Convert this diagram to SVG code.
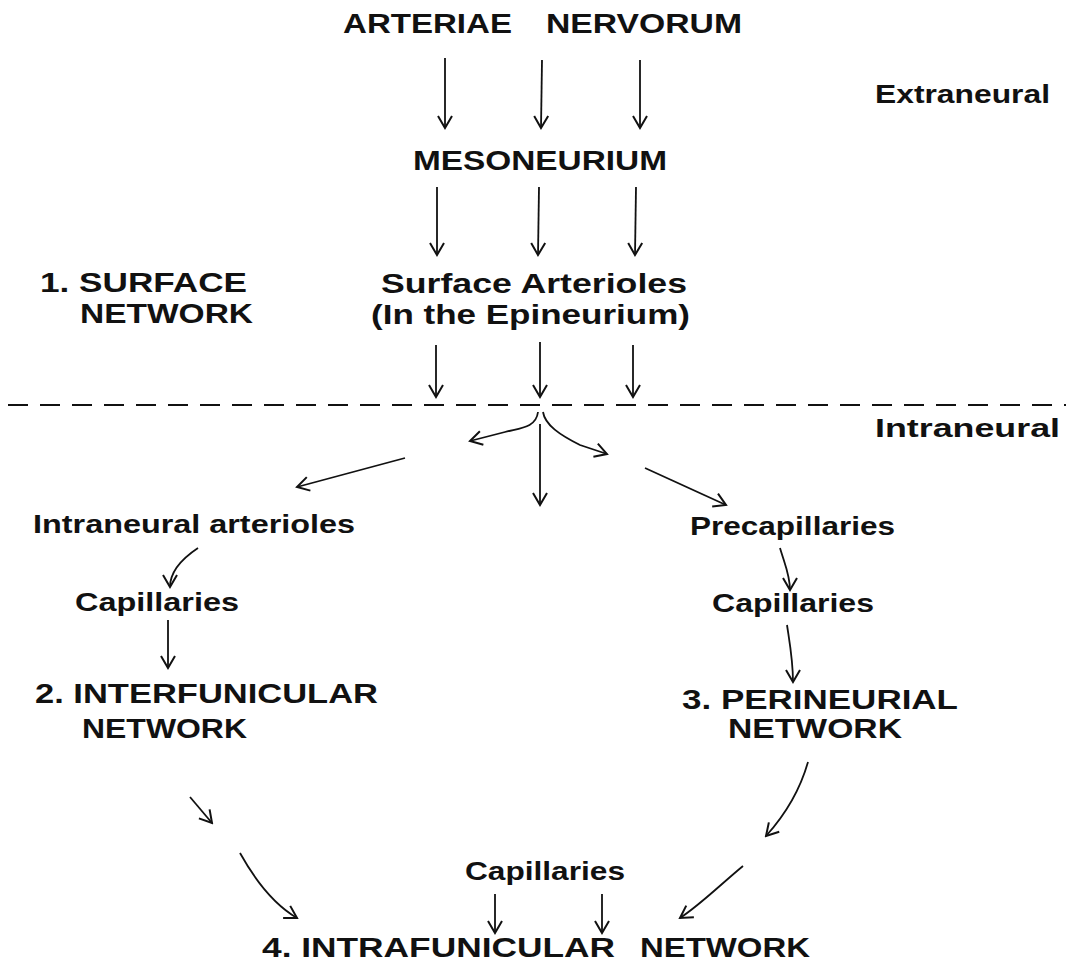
<svg xmlns="http://www.w3.org/2000/svg" width="1066" height="965" viewBox="0 0 1066 965">
<defs>
<marker id="ah" viewBox="-14 -9 16 18" markerWidth="16" markerHeight="18" refX="0" refY="0" orient="auto" markerUnits="userSpaceOnUse">
<path d="M -12,-7 L 0,0 L -12,7" fill="none" stroke="#111" stroke-width="2"/>
</marker>
<style>
text{font-family:"Liberation Sans",Arial,sans-serif;font-weight:bold;fill:#111;}
.big{font-size:27px;}
.mid{font-size:26px;}
.cn{stroke:#111;stroke-width:1.8;fill:none;marker-end:url(#ah);}
.dash{stroke:#111;stroke-width:2;stroke-dasharray:20 12;fill:none;}
</style>
</defs>
<rect width="1066" height="965" fill="#fff"/>
<g id="arteriae"><text class="big" x="343" y="33" textLength="169" lengthAdjust="spacingAndGlyphs">ARTERIAE</text><text class="big" x="546" y="33" textLength="196" lengthAdjust="spacingAndGlyphs">NERVORUM</text></g>
<g id="extraneural"><text class="mid" x="875" y="103" textLength="175" lengthAdjust="spacingAndGlyphs">Extraneural</text></g>
<g id="mesoneurium"><text class="big" x="413" y="170" textLength="254" lengthAdjust="spacingAndGlyphs">MESONEURIUM</text></g>
<g id="surface-network"><text class="big" x="40" y="292" textLength="207" lengthAdjust="spacingAndGlyphs">1.  SURFACE</text><text class="big" x="80" y="323" textLength="173" lengthAdjust="spacingAndGlyphs">NETWORK</text></g>
<g id="surface-arterioles"><text class="big" x="381" y="293" textLength="306" lengthAdjust="spacingAndGlyphs">Surface  Arterioles</text><text class="big" x="371" y="324" textLength="319" lengthAdjust="spacingAndGlyphs">(In  the  Epineurium)</text></g>
<g id="intraneural"><text class="mid" x="875" y="437" textLength="185" lengthAdjust="spacingAndGlyphs">Intraneural</text></g>
<g id="intraneural-arterioles"><text class="mid" x="33" y="533" textLength="322" lengthAdjust="spacingAndGlyphs">Intraneural arterioles</text></g>
<g id="precapillaries"><text class="mid" x="690" y="535" textLength="205" lengthAdjust="spacingAndGlyphs">Precapillaries</text></g>
<g id="capillaries-left"><text class="mid" x="75" y="611" textLength="164" lengthAdjust="spacingAndGlyphs">Capillaries</text></g>
<g id="capillaries-right"><text class="mid" x="712" y="612" textLength="162" lengthAdjust="spacingAndGlyphs">Capillaries</text></g>
<g id="interfunicular"><text class="big" x="35" y="703" textLength="343" lengthAdjust="spacingAndGlyphs">2.  INTERFUNICULAR</text><text class="big" x="82" y="738" textLength="165" lengthAdjust="spacingAndGlyphs">NETWORK</text></g>
<g id="perineurial"><text class="big" x="682" y="709" textLength="276" lengthAdjust="spacingAndGlyphs">3.  PERINEURIAL</text><text class="big" x="728" y="738" textLength="174" lengthAdjust="spacingAndGlyphs">NETWORK</text></g>
<g id="capillaries-bottom"><text class="mid" x="465" y="880" textLength="160" lengthAdjust="spacingAndGlyphs">Capillaries</text></g>
<g id="intrafunicular"><text class="big" x="262" y="957" textLength="353" lengthAdjust="spacingAndGlyphs">4.  INTRAFUNICULAR</text><text class="big" x="640" y="957" textLength="170" lengthAdjust="spacingAndGlyphs">NETWORK</text></g>
<g id="connectors">
<path class="cn" d="M445,58 L445,128"/>
<path class="cn" d="M542,60 L541,128"/>
<path class="cn" d="M640,60 L640,128"/>
<path class="cn" d="M437,187 L437,255"/>
<path class="cn" d="M539,187 L538,255"/>
<path class="cn" d="M636,187 L635,255"/>
<path class="cn" d="M436,345 L436,397"/>
<path class="cn" d="M540,342 L540,397"/>
<path class="cn" d="M633,345 L633,397"/>
<path class="dash" d="M8,405 L1066,405"/>
<path class="cn" d="M538,412 C536,428 520,428 505,432 L470,441"/>
<path class="cn" d="M543,412 C545,425 560,435 580,445 L607,454"/>
<path class="cn" d="M540,424 L540,505"/>
<path class="cn" d="M405,458 L297,487"/>
<path class="cn" d="M645,468 L726,505"/>
<path class="cn" d="M198,548 C180,560 170,572 170,587"/>
<path class="cn" d="M168,620 L168,668"/>
<path class="cn" d="M780,548 C785,565 790,575 790,590"/>
<path class="cn" d="M787,625 C790,645 793,660 793,682"/>
<path class="cn" d="M190,797 L212,823"/>
<path class="cn" d="M240,853 C255,880 275,905 297,918"/>
<path class="cn" d="M808,762 C800,790 785,815 766,836"/>
<path class="cn" d="M743,866 C720,885 700,905 680,918"/>
<path class="cn" d="M495,894 L495,933"/>
<path class="cn" d="M602,894 L602,933"/>
</g>
</svg>
